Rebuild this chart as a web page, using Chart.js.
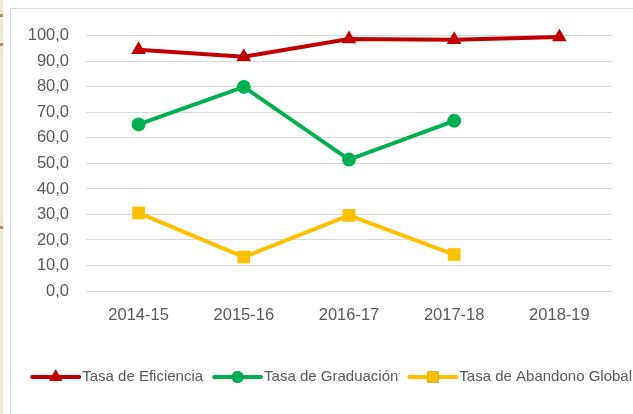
<!DOCTYPE html>
<html>
<head>
<meta charset="utf-8">
<script src="https://cdn.jsdelivr.net/npm/chart.js@4"></script>
<style>
  body { margin: 0; background: #ffffff; width: 633px; height: 414px; overflow: hidden; position: relative; }
  .strip { position: absolute; left: 0; top: 0; width: 3px; height: 414px; background: #efe6d6; }
  .mark { position: absolute; left: 0; width: 3px; height: 3px; background: #b8915a; }
  .box { position: absolute; left: 10px; top: 8px; width: 640px; height: 420px; border: 1px solid #d9d9d9; background: #fff; }
  #wrap { position: absolute; left: 11px; top: 9px; width: 622px; height: 405px; }
</style>
</head>
<body>
<div class="strip"></div>
<div class="mark" style="top:14px"></div>
<div class="mark" style="top:43px"></div>
<div class="mark" style="top:226px"></div>
<div class="box"></div>
<div id="wrap"><canvas id="myChart"></canvas></div>
<script>
const years = ['2014-15', '2015-16', '2016-17', '2017-18', '2018-19'];
const eficiencia = [94.6, 91.8, 98.8, 98.5, 99.6];
const graduacion = [65.3, 80.0, 51.5, 66.7, null];
const abandono = [30.6, 13.3, 29.6, 14.3, null];
const yTicks = [0, 10, 20, 30, 40, 50, 60, 70, 80, 90, 100];

const font = 'Liberation Sans';

// legend with line + marker, like the spreadsheet one
const lineLegend = {
    id: 'lineLegend',
    afterDraw(chart) {
        const ctx = chart.ctx;
        const sets = chart.data.datasets;
        ctx.save();
        ctx.font = `15px "${font}"`;
        let lineLen = 51;
        let gap = 9;
        let widths = sets.map(ds => lineLen + 1 + ctx.measureText(ds.label).width);
        let total = widths.reduce((a, b) => a + b, 0) + gap * (sets.length - 1);
        let x = chart.width - total - 1;
        let y = 368;
        sets.forEach((ds, i) => {
            ctx.strokeStyle = ds.borderColor;
            ctx.lineWidth = 4;
            ctx.lineCap = 'round';
            ctx.beginPath();
            ctx.moveTo(x + 2, y);
            ctx.lineTo(x + lineLen - 2, y);
            ctx.stroke();
            Chart.helpers.drawPoint(ctx, {
                pointStyle: ds.pointStyle, radius: ds.pointRadius - 1, borderWidth: 0
            }, x + lineLen / 2, y);
            ctx.fillStyle = ds.borderColor;
            ctx.fill();
            ctx.fillStyle = '#595959';
            ctx.textBaseline = 'middle';
            ctx.fillText(ds.label, x + lineLen + 1, y);
            x += widths[i] + gap;
        });
        ctx.restore();
    }
};

const mkSet = (label, data, color, style, r) => ({
    label: label,
    data: data,
    borderColor: color,
    backgroundColor: color,
    borderWidth: 4,
    pointStyle: style,
    pointRadius: r,
    pointHoverRadius: r,
    pointBorderWidth: 0,
    spanGaps: false,
    clip: false,
    tension: 0
});

const ctx = document.getElementById('myChart');
new Chart(ctx, {
    type: 'line',
    data: {
        labels: years,
        datasets: [
            mkSet('Tasa de Eficiencia', eficiencia, '#c00000', 'triangle', 8.5),
            mkSet('Tasa de Graduación', graduacion, '#00b050', 'circle', 7),
            mkSet('Tasa de Abandono Global', abandono, '#ffc000', 'rect', 9)
        ]
    },
    options: {
        responsive: true,
        maintainAspectRatio: false,
        animation: false,
        layout: { padding: { top: 25, right: 21, left: 0, bottom: 0 } },
        plugins: { legend: { display: false }, tooltip: { enabled: false } },
        scales: {
            x: {
                offset: true,
                grid: { display: false, drawTicks: false },
                border: { display: false },
                ticks: { color: '#595959', font: { family: font, size: 16.5 }, padding: 15 },
                afterFit: s => { s.height = 123; }
            },
            y: {
                min: 0,
                max: 100,
                afterBuildTicks: s => { s.ticks = yTicks.map(v => ({ value: v })); },
                grid: { color: '#d9d9d9', lineWidth: 1, drawTicks: false },
                border: { display: false },
                ticks: {
                    color: '#595959',
                    font: { family: font, size: 16.5 },
                    padding: 17,
                    callback: v => v.toFixed(1).replace('.', ',')
                },
                afterFit: s => { s.width = 75; }
            }
        }
    },
    plugins: [lineLegend]
});
</script>
</body>
</html>
